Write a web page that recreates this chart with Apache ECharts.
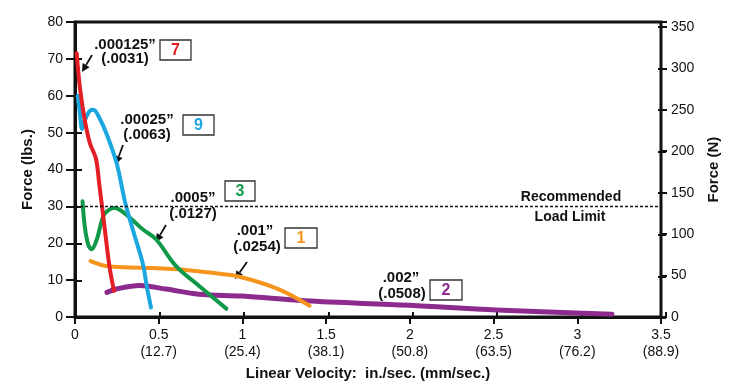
<!DOCTYPE html>
<html><head><meta charset="utf-8">
<script src="https://cdn.jsdelivr.net/npm/echarts@6/dist/echarts.min.js"></script>
<style>html,body{margin:0;padding:0;background:#fff}#c{width:729px;height:386px}</style>
</head><body><div id="c"></div>
<script>
// x: linear velocity (in./sec.), y: force (lbs.)
const red7 = [[0.01,71.5],[0.03,62],[0.06,53],[0.09,47],[0.125,43],[0.145,36],[0.175,25],[0.205,14],[0.233,7.1]];
const blue9 = [[0.016,60],[0.03,55],[0.042,51],[0.06,53.5],[0.09,56],[0.11,56.2],[0.14,54.5],[0.19,49.5],[0.25,41.5],[0.3,31],[0.35,23],[0.405,14.5],[0.43,8],[0.454,2.6]];
const green3 = [[0.045,31.4],[0.06,24],[0.08,19.5],[0.099,18.4],[0.13,21],[0.17,27.5],[0.207,29.2],[0.237,29.6],[0.306,27.8],[0.404,23.8],[0.484,21.1],[0.602,13.9],[0.74,8.5],[0.904,2.3]];
const orange1 = [[0.093,15.2],[0.207,13.7],[0.404,13.4],[0.661,12.8],[0.85,11.8],[0.977,11],[1.214,7.6],[1.401,3.1]];
const purple2 = [[0.191,6.7],[0.247,7.6],[0.385,8.6],[0.543,7.6],[0.74,6.2],[1.0,5.7],[1.372,4.4],[1.997,3.2],[2.516,1.9],[3.207,0.8]];
const loadLimit = 30;
const xTickLabels = ['0','0.5\n(12.7)','1\n(25.4)','1.5\n(38.1)','2\n(50.8)','2.5\n(63.5)','3\n(76.2)','3.5\n(88.9)'];
const leftTicks = [0,10,20,30,40,50,60,70,80];
const rightTicks = [0,50,100,150,200,250,300,350];
const LBS_TO_N = 4.44822;

const FONT = '"Liberation Sans", Arial, sans-serif';
const chart = echarts.init(document.getElementById('c'), null, {renderer:'canvas'});

function arrow(x1,y1,x2,y2){
  const a = Math.atan2(y2-y1, x2-x1), L = 8, W = 4;
  const bx = x2 - L*Math.cos(a), by = y2 - L*Math.sin(a);
  return [
    {type:'line', shape:{x1:x1,y1:y1,x2:bx,y2:by}, style:{stroke:'#111', lineWidth:1.8}},
    {type:'polygon', shape:{points:[[x2,y2],[bx - W*Math.sin(a), by + W*Math.cos(a)],[bx + W*Math.sin(a), by - W*Math.cos(a)]]}, style:{fill:'#111'}}
  ];
}
function label(x,y,t){ return {type:'text', x:x, y:y, style:{text:t, font:'bold 15px '+FONT, fill:'#111', align:'center', verticalAlign:'middle'}}; }
function box(x,y,w,h,t,col){
  return [{type:'rect', shape:{x:x,y:y,width:w,height:h}, style:{fill:'#fff', stroke:'#333', lineWidth:1.3}},
          {type:'text', x:x+w/2, y:y+h/2+1, style:{text:t, font:'bold 16px '+FONT, fill:col, align:'center', verticalAlign:'middle'}}];
}
const graphics = [].concat(
  label(125,45,'.000125”'), label(125,59,'(.0031)'), box(160,40,31,20,'7','#e31e24'), arrow(92,55,82,72),
  label(147,120,'.00025”'), label(147,135,'(.0063)'), box(183,115,31,20,'9','#1ba7e0'), arrow(123,145,116,164),
  label(193,198,'.0005”'), label(193,214,'(.0127)'), box(225,181,30,20,'3','#11994a'), arrow(166,225,156,242),
  label(255,231,'.001”'), label(257,247,'(.0254)'), box(285,228,32,20,'1','#f7941d'), arrow(247,262,235,279),
  label(401,278,'.002”'), label(402,294,'(.0508)'), box(430,280,32,20,'2','#8c2a8e'),
  [{type:'text', x:571, y:197, style:{text:'Recommended', font:'bold 14px '+FONT, fill:'#111', align:'center', verticalAlign:'middle'}},
   {type:'text', x:570, y:217, style:{text:'Load Limit', font:'bold 14px '+FONT, fill:'#111', align:'center', verticalAlign:'middle'}}]
);

function lineSeries(name, data, color, w){
  return {name:name, type:'line', data:data, smooth:0.35, showSymbol:false, symbol:'none',
    lineStyle:{color:color, width:w, cap:'round', join:'round'}, z:3, animation:false};
}
const tickOnly = (extra) => Object.assign({type:'value', axisLine:{show:false, onZero:false}, axisLabel:{show:false}, splitLine:{show:false}, name:''}, extra);
const inTick = (len) => ({show:true, inside:true, length:len, lineStyle:{color:'#111', width:2}});
const G = {left:75, right:63, top:22, bottom:68};

const option = {
  animation:false,
  textStyle:{fontFamily:FONT},
  grid:[Object.assign({show:true, borderColor:'#111', borderWidth:3, backgroundColor:'transparent'}, G),
        Object.assign({show:false}, G), Object.assign({show:false}, G)],
  xAxis:[{type:'value', gridIndex:0, min:0, max:3.5, interval:0.5, position:'bottom',
    name:'Linear Velocity:  in./sec. (mm/sec.)', nameLocation:'middle', nameGap:45,
    nameTextStyle:{fontSize:15, fontWeight:'bold', color:'#111', fontFamily:FONT},
    axisLine:{show:true, lineStyle:{color:'#111', width:3}},
    axisTick:{show:true, length:7, lineStyle:{color:'#111', width:2}},
    axisLabel:{color:'#111', fontSize:14, lineHeight:17, margin:10, fontFamily:FONT,
      formatter:(v)=> xTickLabels[Math.round(v/0.5)] || ''},
    splitLine:{show:false}},
    tickOnly({gridIndex:1, min:0, max:3.5, interval:0.5, position:'bottom', axisTick:inTick(6)}),
    tickOnly({gridIndex:2, min:0, max:3.5, interval:0.5, position:'bottom', axisTick:{show:false}})
  ],
  yAxis:[
    {type:'value', gridIndex:0, min:0, max:80, interval:10, position:'left',
      name:'Force (lbs.)', nameLocation:'middle', nameGap:40,
      nameTextStyle:{fontSize:15, fontWeight:'bold', color:'#111', fontFamily:FONT},
      axisLine:{show:true, lineStyle:{color:'#111', width:3}},
      axisTick:{show:true, length:9, lineStyle:{color:'#111', width:2}},
      axisLabel:{color:'#111', fontSize:14, margin:12, fontFamily:FONT,
        formatter:(v)=> leftTicks.includes(v) ? String(v) : ''},
      splitLine:{show:false}},
    {type:'value', gridIndex:0, min:0, max:80*LBS_TO_N, interval:50, position:'right',
      name:'Force (N)', nameLocation:'middle', nameGap:45,
      nameTextStyle:{fontSize:15, fontWeight:'bold', color:'#111', fontFamily:FONT},
      axisLine:{show:true, lineStyle:{color:'#111', width:2}},
      axisTick:{show:true, length:6, lineStyle:{color:'#111', width:2}},
      axisLabel:{color:'#111', fontSize:14, margin:10, fontFamily:FONT,
        formatter:(v)=> rightTicks.includes(Math.round(v*1000)/1000) ? String(v) : ''},
      splitLine:{show:false}},
    tickOnly({gridIndex:1, min:0, max:80, interval:10, position:'left', axisTick:inTick(7)}),
    tickOnly({gridIndex:2, min:0, max:80*LBS_TO_N, interval:50, position:'right', axisTick:inTick(8)})
  ],
  series:[
    {name:'limit', type:'line', data:[], markLine:{silent:true, symbol:'none', label:{show:false},
      lineStyle:{color:'#111', type:[3,2], width:1.3}, data:[{yAxis:loadLimit}]}},
    lineSeries('2', purple2, '#8c2a8e', 5),
    lineSeries('1', orange1, '#f7941d', 4),
    lineSeries('3', green3, '#11994a', 4),
    lineSeries('9', blue9, '#1ba7e0', 4),
    lineSeries('7', red7, '#e31e24', 4)
  ],
  graphic: graphics
};
chart.setOption(option);
</script></body></html>
